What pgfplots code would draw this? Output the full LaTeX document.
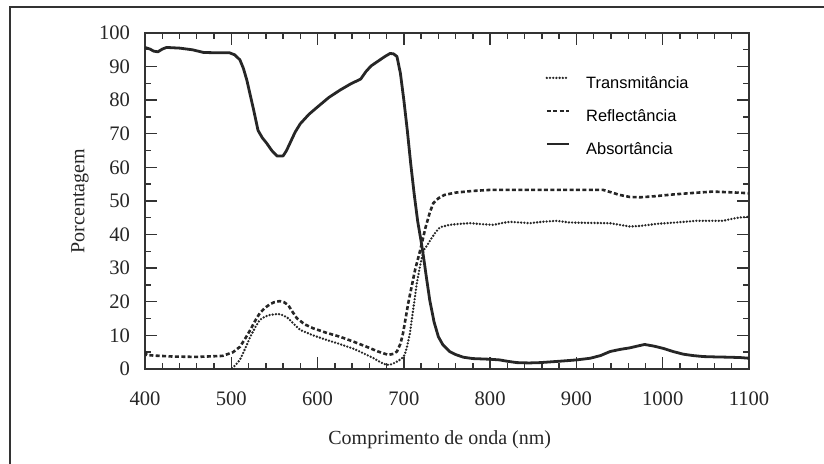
\documentclass[border=0pt]{standalone}
\usepackage{fontspec}
\setmainfont{Liberation Serif}
\newfontfamily\legfont{Liberation Sans}
\usepackage{pgfplots}
\pgfplotsset{compat=1.18}

\begin{document}
\begin{tikzpicture}
% 1 px of the reference = 0.5pt; axis box at px (145..749, 33..369)
\useasboundingbox (-72.5pt,-47.5pt) rectangle (339.5pt,184.5pt);
\draw[line width=1.3pt, black!80] (-67.5pt,-90pt) rectangle (380pt,181pt);
\begin{axis}[
    at={(0pt,0pt)}, anchor=south west,
    scale only axis,
    width=302pt, height=168pt,
    xmin=400, xmax=1100, ymin=0, ymax=100,
    xtick={400,500,...,1100},
    ytick={0,10,...,100},
    minor x tick num=4,
    minor y tick num=1,
    tick align=inside,
    xtick pos=both, ytick pos=both,
    major tick length=6pt, minor tick length=3pt,
    axis line style={line width=0.9pt, black!80},
    every tick/.style={line width=0.7pt, black!80},
    /pgf/number format/assume math mode=true,
    /pgf/number format/1000 sep={},
    ticklabel style={font=\fontsize{10.3}{12}\selectfont, black!85},
    xticklabel style={yshift=-8pt},
    yticklabel style={xshift=-4pt},
    xlabel={Comprimento de onda (nm)},
    ylabel={Porcentagem},
    label style={font=\fontsize{10}{12}\selectfont, black!85},
    xlabel style={at={(axis description cs:0.488,-0.2113)}, anchor=center},
    ylabel style={at={(axis description cs:-0.1076,0.5)}, anchor=center},
    legend style={draw=none, fill=none, inner sep=0pt,
        at={(axis description cs:0.6623,0.872)}, anchor=north west,
        font=\legfont\fontsize{8.2}{10}\selectfont,
        row sep=9pt,
        nodes={inner sep=0pt, text height=6pt, text depth=1.5pt},
        /tikz/every odd column/.append style={column sep=8pt}},
    legend cell align=left,
    legend image code/.code={\draw[#1] (0pt,3pt) -- (11pt,3pt);},
]
% Transmitancia
\addplot[black!85, line width=1.3pt, line cap=round, dash pattern=on 0pt off 1.6pt] coordinates {
(501,0.2) (505,1.2) (510,2.7) (516,6.0) (522,9.6) (528,12.5) (533,14.6) (539,15.6)
(545,16.1) (554,16.4) (560,16.0) (566,15.1) (572,13.5) (580,11.6) (595,10.0) (611,8.6)
(626,7.4) (641,6.1) (653,4.7) (665,3.2) (673,2.0) (680,1.2) (686,1.4) (692,2.2)
(697,3.0) (701,4.2) (704,7.0) (707,10.6) (711,18) (715,25.5) (719,31) (723,35.4)
(727,36.8) (731,38.5) (737,40.8) (742,42.2) (753,42.9) (765,43.2) (777,43.4) (790,43.1)
(804,42.9) (815,43.5) (823,43.8) (835,43.6) (846,43.4) (860,43.8) (877,44.1) (892,43.6)
(910,43.5) (939,43.4) (950,42.9) (962,42.4) (975,42.6) (993,43.2) (1015,43.6) (1039,44.1)
(1055,44.1) (1070,44.1) (1082,44.8) (1090,45.1) (1100,45.3)
};
\addlegendentry{Transmitância}
% Reflectancia
\addplot[black!85, line width=1.3pt, dash pattern=on 2pt off 1.2pt] coordinates {
(400,5.2) (402,4.2) (410,4.0) (433,3.7) (460,3.6) (490,3.9) (502,5.0) (510,6.6)
(516,9.0) (522,11.6) (528,14.5) (533,16.6) (539,18.2) (545,19.3) (550,19.9) (556,20.2)
(561,19.9) (566,19.0) (571,17.0) (576,15.1) (585,13.3) (595,12.1) (610,10.8) (626,9.6)
(641,8.2) (657,6.6) (670,5.2) (682,4.2) (688,4.5) (692,5.2) (696,7.5) (699,10.6)
(702,15) (705,19.5) (709,24.5) (713,29.5) (719,35.4) (725,42) (730,46.5) (734,49.3)
(740,50.8) (747,51.8) (760,52.5) (780,53.0) (800,53.3) (850,53.3) (900,53.3) (931,53.3)
(940,52.6) (950,51.8) (962,51.2) (974,51.1) (990,51.4) (1010,51.9) (1030,52.3) (1058,52.8)
(1086,52.5) (1100,52.3)
};
\addlegendentry{Reflectância}
% Absortancia
\addplot[black!85, line width=1.4pt, line join=round] coordinates {
(400,95.7) (406,95.2) (410,94.6) (415,94.4) (420,95.2) (425,95.7) (440,95.5) (455,95.0)
(468,94.2) (485,94.1) (498,94.1) (504,93.5) (510,92.0) (514,89.5) (518,86.0) (522,81.5)
(526,77.0) (531,71.0) (536,68.8) (541,67.2) (547,65.0) (553,63.4) (560,63.4) (564,65.0)
(568,67.2) (574,70.5) (580,73.0) (590,75.8) (600,78.0) (613,80.8) (626,83.0) (638,84.8)
(650,86.3) (656,88.5) (662,90.2) (670,91.6) (678,93.0) (684,93.9) (688,93.8) (692,93.0)
(696,88) (700,80) (704,71) (708,61) (712,52) (716,44) (720,38) (723,33)
(726,27.5) (730,20.5) (735,14) (740,9.6) (745,7.3) (753,5.2) (760,4.3) (769,3.5)
(780,3.1) (800,2.9) (811,2.7) (820,2.3) (831,1.9) (845,1.8) (858,1.9) (880,2.3)
(900,2.7) (916,3.2) (928,4.0) (939,5.2) (950,5.8) (962,6.3) (972,6.9) (979,7.3)
(990,6.8) (1001,6.1) (1012,5.2) (1024,4.4) (1035,4.0) (1047,3.7) (1060,3.6) (1078,3.5)
(1090,3.4) (1100,3.2)
};
\addlegendentry{Absortância}
\end{axis}
\end{tikzpicture}
\end{document}
